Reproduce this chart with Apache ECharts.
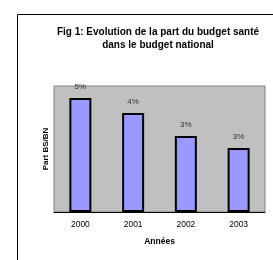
<!DOCTYPE html>
<html>
<head>
<meta charset="utf-8">
<script src="https://cdn.jsdelivr.net/npm/echarts@6/dist/echarts.min.js"></script>
<style>
    html, body { margin: 0; padding: 0; background: #fff; }
    #chart { width: 273px; height: 260px; }
</style>
</head>
<body>
<div id="chart"></div>
<script>
// données (part en %)
const years = ["2000", "2001", "2002", "2003"];
const shares = [4.98, 4.32, 3.32, 2.79];

const chart = echarts.init(document.getElementById("chart"), null, { renderer: "canvas" });
const font = "Liberation Sans, Arial, sans-serif";

const option = {
    animation: false,
    backgroundColor: "#fff",
    title: {
        text: "Fig 1: Evolution de la part du budget santé\ndans le budget national",
        left: 153,
        top: 21,
        textAlign: "center",
        textStyle: {
            fontFamily: font,
            fontSize: 10,
            fontWeight: "bold",
            color: "#000",
            lineHeight: 13,
        },
    },
    graphic: [
        // cadre extérieur (seuls les bords haut et gauche sont visibles)
        {
            type: "polyline",
            shape: { points: [[17.5, 262], [17.5, 14.5], [275, 14.5]] },
            style: { stroke: "#000", lineWidth: 1, fill: null },
        },
    ],
    grid: {
        left: 54,
        top: 86,
        width: 211,
        height: 126,
        show: true,
        backgroundColor: "#C0C0C0",
        borderColor: "#808080",
        borderWidth: 1,
    },
    xAxis: {
        type: "category",
        data: years,
        name: "Années",
        nameLocation: "middle",
        nameGap: 25,
        nameTextStyle: { fontFamily: font, fontSize: 8.5, fontWeight: "bold", color: "#000" },
        axisLine: { lineStyle: { color: "#000", width: 1 } },
        axisTick: { alignWithLabel: false, length: 3, lineStyle: { color: "#000" } },
        axisLabel: { fontFamily: font, fontSize: 8.5, color: "#000", margin: 8 },
    },
    yAxis: {
        type: "value",
        min: 0,
        max: 5.5,
        name: "Part BS/BN",
        nameLocation: "middle",
        nameRotate: 90,
        nameGap: 4,
        nameTextStyle: { fontFamily: font, fontSize: 8, fontWeight: "bold", color: "#000" },
        axisLine: { show: false },
        axisTick: { show: false },
        axisLabel: { show: false },
        splitLine: { show: false },
    },
    series: [
        {
            type: "bar",
            data: shares,
            barWidth: 22,
            itemStyle: {
                color: "#9999FF",
                borderColor: "#000",
                borderWidth: 2,
            },
            label: {
                show: true,
                position: "top",
                distance: 7,
                fontFamily: font,
                fontSize: 8,
                color: "#333",
                formatter: (p) => Math.round(p.value) + "%",
            },
        },
    ],
};

chart.setOption(option);
</script>
</body>
</html>
